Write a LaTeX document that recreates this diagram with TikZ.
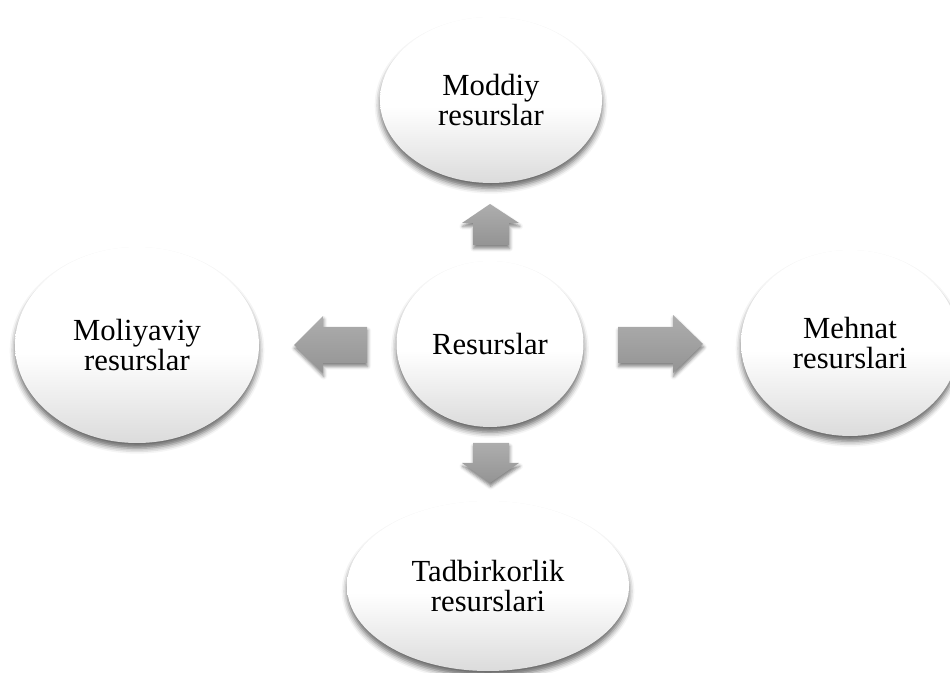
\documentclass[tikz,border=0pt]{standalone}
\usepackage{fontspec}
\setmainfont{Liberation Serif}
\usetikzlibrary{shapes.geometric,shadows.blur}
\pgfdeclareverticalshading{ellshade}{100bp}{color(0bp)=(black!14); color(25bp)=(black!14); color(48bp)=(white); color(100bp)=(white)}
\pgfdeclareverticalshading{arrshade}{100bp}{color(0bp)=(black!42); color(25bp)=(black!42); color(75bp)=(black!32); color(100bp)=(black!32)}
\tikzset{
  ell/.style={ellipse, inner sep=0pt, draw=none, shading=ellshade, align=center,
    font=\fontsize{23}{22}\selectfont,
    blur shadow={shadow xshift=0pt, shadow yshift=-4pt, shadow blur radius=4pt, shadow opacity=60}},
  blockarrow/.style={draw=none, shading=arrshade,
    blur shadow={shadow xshift=0.5pt, shadow yshift=-2.5pt, shadow blur radius=2.5pt, shadow opacity=50}}
}
\begin{document}
\begin{tikzpicture}[x=0.75pt,y=-0.75pt]
\useasboundingbox (0,0) rectangle (950,673);
% ellipses
\node[ell, minimum width=166.5pt, minimum height=124.5pt] (moddiy) at (491,100) {Moddiy\\resurslar};
\node[ell, minimum width=140.25pt, minimum height=124.5pt] (res) at (490,344) {Resurslar};
\node[ell, minimum width=183pt, minimum height=147pt] (moliya) at (137,345) {Moliyaviy\\resurslar};
\node[ell, minimum width=163.5pt, minimum height=139.5pt] (mehnat) at (850,343) {Mehnat\\resurslari};
\node[ell, minimum width=211.5pt, minimum height=127.5pt] (tadbir) at (488,586) {Tadbirkorlik\\resurslari};
% block arrows
\path[blockarrow] (490,204) -- (519,223) -- (509,223) -- (509,245) -- (473,245) -- (473,223) -- (462,223) -- cycle;
\path[blockarrow] (473,443) -- (509,443) -- (509,463) -- (519,463) -- (490,483) -- (462,463) -- (473,463) -- cycle;
\path[blockarrow] (294,345) -- (323,316) -- (323,327) -- (367,327) -- (367,363) -- (323,363) -- (323,373) -- cycle;
\path[blockarrow] (618,327) -- (673,327) -- (673,315) -- (703,344) -- (673,373) -- (673,363) -- (618,363) -- cycle;
\end{tikzpicture}
\end{document}
